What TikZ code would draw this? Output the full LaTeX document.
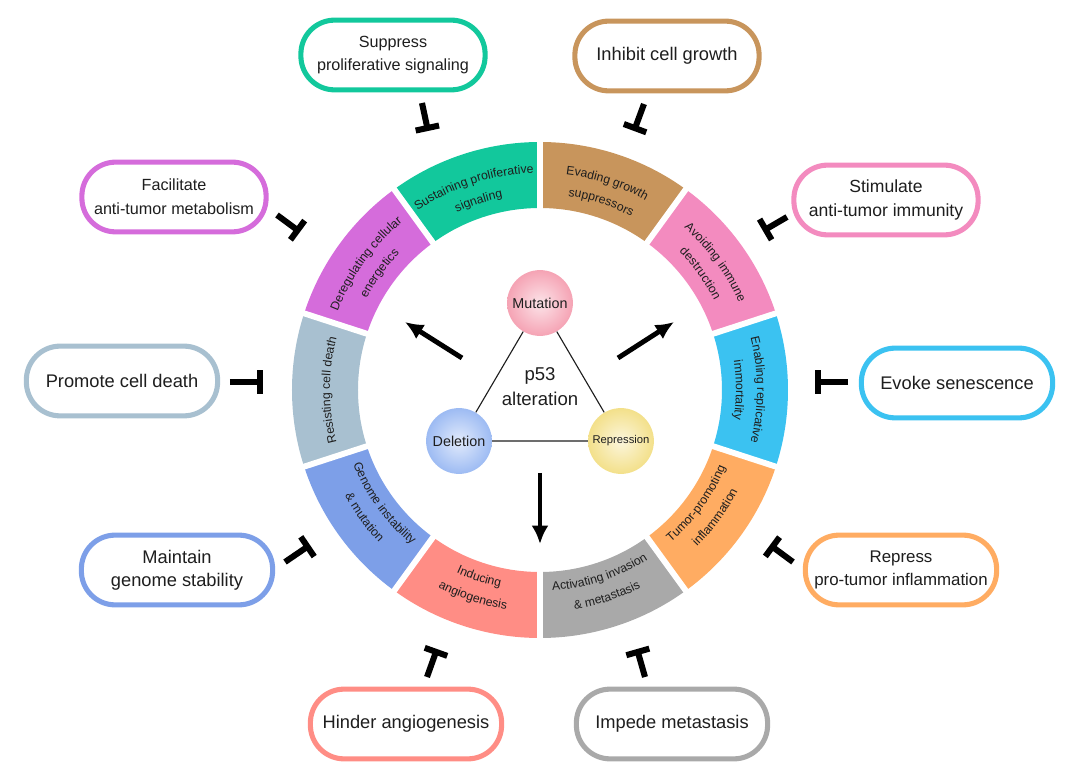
\documentclass[tikz,border=0pt]{standalone}
\usepackage{fontspec}
\setmainfont{Liberation Sans}
\usetikzlibrary{arrows.meta,decorations.text}

\definecolor{csig}{HTML}{12C89C}
\definecolor{cgro}{HTML}{C8955C}
\definecolor{cimm}{HTML}{F38BBF}
\definecolor{crep}{HTML}{3BC2F1}
\definecolor{cinf}{HTML}{FFAC62}
\definecolor{cmet}{HTML}{A9A9A9}
\definecolor{cang}{HTML}{FF8D85}
\definecolor{cgen}{HTML}{7D9FE8}
\definecolor{cdea}{HTML}{A8C0D0}
\definecolor{cene}{HTML}{D56CDB}
\definecolor{cmut}{HTML}{F5A3B4}
\definecolor{cdel}{HTML}{9DBBF3}
\definecolor{crps}{HTML}{F3E08A}
\definecolor{ink}{HTML}{1E1E1E}

\newcommand{\segfont}{\fontsize{8.7}{10}\selectfont}

\tikzset{
  goal/.style={draw=#1, line width=3.6pt, fill=white, rounded corners=24pt,
    minimum width=136pt, minimum height=49.6pt, align=center, text=ink,
    font=\fontsize{13}{17}\selectfont},
  segtext/.style={decorate, decoration={text along path, text align=center,
    text={|\segfont\color{ink}|#1}}},
  inhib/.style={line width=4.3pt, -{Bar[width=17pt]}},
  push/.style={line width=3.5pt, -{Latex[length=13pt,width=12pt]}},
  hub/.style={circle, minimum size=46.8pt, inner sep=0pt, text=ink,
    font=\fontsize{10.2}{12}\selectfont}
}

\begin{document}
\begin{tikzpicture}[x=0.025cm,y=0.025cm]

\useasboundingbox (-540,-386) rectangle (540,390);

\def\rin{182}
\def\rout{248}

% ring of hallmarks
\fill[csig] (90:\rin) arc[start angle=90, end angle=126, radius=\rin] -- (126:\rout) arc[start angle=126, end angle=90, radius=\rout] -- cycle;
\fill[cgro] (54:\rin) arc[start angle=54, end angle=90, radius=\rin] -- (90:\rout) arc[start angle=90, end angle=54, radius=\rout] -- cycle;
\fill[cimm] (18:\rin) arc[start angle=18, end angle=54, radius=\rin] -- (54:\rout) arc[start angle=54, end angle=18, radius=\rout] -- cycle;
\fill[crep] (-18:\rin) arc[start angle=-18, end angle=18, radius=\rin] -- (18:\rout) arc[start angle=18, end angle=-18, radius=\rout] -- cycle;
\fill[cinf] (-54:\rin) arc[start angle=-54, end angle=-18, radius=\rin] -- (-18:\rout) arc[start angle=-18, end angle=-54, radius=\rout] -- cycle;
\fill[cmet] (-90:\rin) arc[start angle=-90, end angle=-54, radius=\rin] -- (-54:\rout) arc[start angle=-54, end angle=-90, radius=\rout] -- cycle;
\fill[cang] (-126:\rin) arc[start angle=-126, end angle=-90, radius=\rin] -- (-90:\rout) arc[start angle=-90, end angle=-126, radius=\rout] -- cycle;
\fill[cgen] (-162:\rin) arc[start angle=-162, end angle=-126, radius=\rin] -- (-126:\rout) arc[start angle=-126, end angle=-162, radius=\rout] -- cycle;
\fill[cdea] (162:\rin) arc[start angle=162, end angle=198, radius=\rin] -- (198:\rout) arc[start angle=198, end angle=162, radius=\rout] -- cycle;
\fill[cene] (126:\rin) arc[start angle=126, end angle=162, radius=\rin] -- (162:\rout) arc[start angle=162, end angle=126, radius=\rout] -- cycle;

\draw[white, line width=4.2pt] (90:170) -- (90:260) (54:170) -- (54:260) (18:170) -- (18:260)
  (-18:170) -- (-18:260) (-54:170) -- (-54:260) (-90:170) -- (-90:260) (-126:170) -- (-126:260)
  (-162:170) -- (-162:260) (162:170) -- (162:260) (126:170) -- (126:260);

% labels on the ring
\path[segtext=Sustaining proliferative] (126:217) arc[start angle=126, end angle=90, radius=217];
\path[segtext=signaling] (126:196) arc[start angle=126, end angle=90, radius=196];
\path[segtext=Evading growth] (90:217) arc[start angle=90, end angle=54, radius=217];
\path[segtext=suppressors] (90:196) arc[start angle=90, end angle=54, radius=196];
\path[segtext=Avoiding immune] (54:217) arc[start angle=54, end angle=18, radius=217];
\path[segtext=destruction] (54:196) arc[start angle=54, end angle=18, radius=196];
\path[segtext=Enabling replicative] (18:217) arc[start angle=18, end angle=-18, radius=217];
\path[segtext=immortality] (18:196) arc[start angle=18, end angle=-18, radius=196];
\path[segtext=Tumor-promoting] (-54:201) arc[start angle=-54, end angle=-18, radius=201];
\path[segtext=inflammation] (-54:222) arc[start angle=-54, end angle=-18, radius=222];
\path[segtext=Activating invasion] (-90:201) arc[start angle=-90, end angle=-54, radius=201];
\path[segtext={{\&} metastasis}] (-90:222) arc[start angle=-90, end angle=-54, radius=222];
\path[segtext=Inducing] (-126:201) arc[start angle=-126, end angle=-90, radius=201];
\path[segtext=angiogenesis] (-126:222) arc[start angle=-126, end angle=-90, radius=222];
\path[segtext=Genome instability] (-162:201) arc[start angle=-162, end angle=-126, radius=201];
\path[segtext={{\&} mutation}] (-162:222) arc[start angle=-162, end angle=-126, radius=222];
\path[segtext=Resisting cell death] (198:210) arc[start angle=198, end angle=162, radius=210];
\path[segtext=Deregulating cellular] (162:217) arc[start angle=162, end angle=126, radius=217];
\path[segtext=energetics] (162:196) arc[start angle=162, end angle=126, radius=196];

% p53 triangle
\node[hub, inner color=cmut!30, outer color=cmut] (mut) at (0,87) {Mutation};
\node[hub, inner color=cdel!30, outer color=cdel] (del) at (-81,-51) {Deletion};
\node[hub, inner color=crps!30, outer color=crps, font=\fontsize{8}{10}\selectfont] (rps) at (81,-51) {Repression};
\draw[ink, line width=0.8pt] (mut) -- (del) -- (rps) -- (mut);
\node[align=center, text=ink, font=\fontsize{13.2}{17.7}\selectfont] (alt) at (0,3) {p53\\alteration};

\coordinate (a1s) at (-78,32);
\coordinate (a1e) at (-135,68);
\coordinate (a2s) at (78,32);
\coordinate (a2e) at (134,68);
\coordinate (a3s) at (0,-83);
\coordinate (a3e) at (0,-154);
\draw[push] (a1s) -- (a1e);
\draw[push] (a2s) -- (a2e);
\draw[push] (a3s) -- (a3e);

% p53 functions
\node[goal=csig, minimum width=131pt, font=\fontsize{11.5}{17}\selectfont] (sup) at (-147,335) {Suppress\\proliferative signaling};
\node[goal=cgro, minimum width=131pt] (inh) at (127,334) {Inhibit cell growth};
\node[goal=cene, minimum width=131pt, font=\fontsize{11.5}{17}\selectfont] (fac) at (-366,193) {Facilitate\\anti-tumor metabolism};
\node[goal=cimm, minimum width=131pt, font=\fontsize{12.5}{17}\selectfont] (sti) at (346,190) {Stimulate\\anti-tumor immunity};
\node[goal=cdea] (pro) at (-418,9) {Promote cell death};
\node[goal=crep] (evo) at (417,7) {Evoke senescence};
\node[goal=cgen, font=\fontsize{13}{16.5}\selectfont] (mai) at (-363,-180) {Maintain\\genome stability};
\node[goal=cinf, font=\fontsize{12}{16.5}\selectfont] (rep) at (361,-180) {Repress\\pro-tumor inflammation};
\node[goal=cang] (hin) at (-134,-334) {Hinder angiogenesis};
\node[goal=cmet] (imp) at (132,-334) {Impede metastasis};

\coordinate (t1a) at (-118,287);
\coordinate (t1b) at (-112,259);
\coordinate (t2a) at (104,286);
\coordinate (t2b) at (94,259);
\coordinate (t3a) at (-263,175);
\coordinate (t3b) at (-240,158);
\coordinate (t4a) at (247,173);
\coordinate (t4b) at (223,159);
\coordinate (t5a) at (-310,8);
\coordinate (t5b) at (-277,8);
\coordinate (t6a) at (308,8);
\coordinate (t6b) at (275,8);
\coordinate (t7a) at (-255,-172);
\coordinate (t7b) at (-230,-155);
\coordinate (t8a) at (253,-172);
\coordinate (t8b) at (230,-155);
\coordinate (t9a) at (-113,-287);
\coordinate (t9b) at (-103,-259);
\coordinate (t10a) at (105,-287);
\coordinate (t10b) at (97,-259);

\draw[inhib] (t1a) -- (t1b);
\draw[inhib] (t2a) -- (t2b);
\draw[inhib] (t3a) -- (t3b);
\draw[inhib] (t4a) -- (t4b);
\draw[inhib] (t5a) -- (t5b);
\draw[inhib] (t6a) -- (t6b);
\draw[inhib] (t7a) -- (t7b);
\draw[inhib] (t8a) -- (t8b);
\draw[inhib] (t9a) -- (t9b);
\draw[inhib] (t10a) -- (t10b);

\end{tikzpicture}
\end{document}
